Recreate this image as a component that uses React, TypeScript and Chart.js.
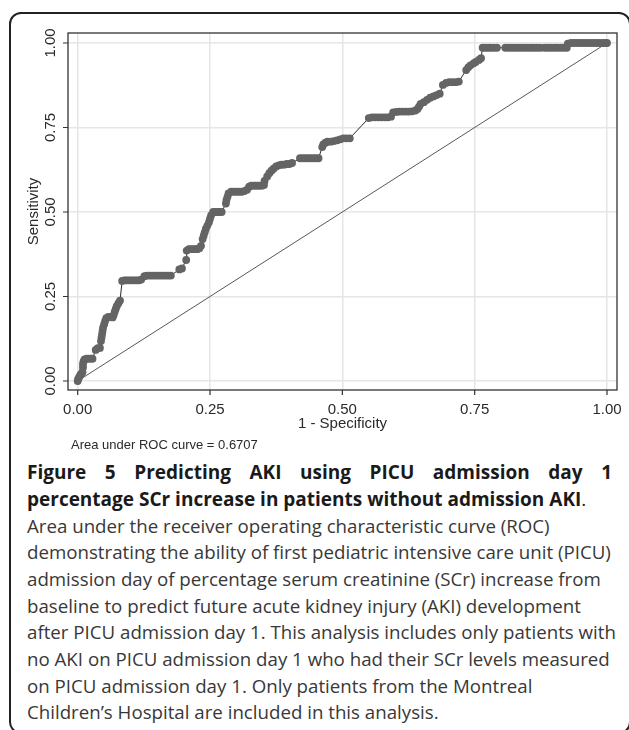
import React, { useEffect, useRef } from "react";
import { Chart, registerables } from "chart.js";

Chart.register(...registerables);

// ---- data ----
const tickValues = [0, 0.25, 0.5, 0.75, 1];
const tickLabels = ["0.00", "0.25", "0.50", "0.75", "1.00"];
const xTitle = "1 - Specificity";
const yTitle = "Sensitivity";
const aucNote = "Area under ROC curve = 0.6707";

const refX = [0, 1];
const refY = [0, 1];

const rocFpr = [
  0.0, 0.001, 0.003, 0.005, 0.007, 0.009, 0.01, 0.01, 0.011, 0.013, 0.017, 0.021, 0.025, 0.028,
  0.034, 0.038, 0.042, 0.044, 0.045, 0.046, 0.047, 0.048, 0.05, 0.052, 0.054, 0.058, 0.062, 0.066,
  0.068, 0.07, 0.072, 0.074, 0.077, 0.08, 0.084, 0.088, 0.092, 0.096, 0.1, 0.104, 0.108, 0.112,
  0.116, 0.12, 0.126, 0.131, 0.136, 0.141, 0.146, 0.151, 0.156, 0.161, 0.166, 0.171, 0.176,
  0.192, 0.197, 0.205, 0.206, 0.21, 0.214, 0.218, 0.222, 0.226, 0.23, 0.233,
  0.236, 0.238, 0.24, 0.242, 0.245, 0.248, 0.25, 0.252, 0.256, 0.26, 0.264, 0.268, 0.272,
  0.28, 0.281, 0.283, 0.285, 0.29, 0.295, 0.3, 0.305, 0.31, 0.315, 0.32,
  0.324, 0.328, 0.332, 0.336, 0.34, 0.344, 0.348, 0.352, 0.353, 0.358, 0.362, 0.366, 0.37,
  0.375, 0.38, 0.385, 0.39, 0.395, 0.4, 0.405,
  0.42, 0.425, 0.43, 0.435, 0.44, 0.445, 0.45, 0.455,
  0.462, 0.464, 0.468, 0.472, 0.478, 0.484, 0.49, 0.496, 0.502, 0.508, 0.514,
  0.55, 0.556, 0.562, 0.568, 0.574, 0.58, 0.586, 0.592,
  0.596, 0.602, 0.608, 0.614, 0.62, 0.626, 0.632, 0.638, 0.642, 0.645, 0.648,
  0.654, 0.66, 0.666, 0.672, 0.678, 0.684, 0.69, 0.696, 0.702, 0.708, 0.714, 0.72,
  0.734, 0.738, 0.742, 0.748, 0.752, 0.758, 0.762,
  0.765, 0.77, 0.775, 0.78, 0.786, 0.792,
  0.808, 0.814, 0.82, 0.826, 0.832, 0.838, 0.844, 0.85, 0.856, 0.862, 0.868, 0.874,
  0.882, 0.888, 0.894, 0.9, 0.906, 0.912, 0.918, 0.924,
  0.926, 0.932, 0.938, 0.944, 0.95, 0.956, 0.962, 0.968, 0.974, 0.98, 0.986, 0.992, 0.997, 1.0,
];

const rocTpr = [
  0.0, 0.006, 0.012, 0.018, 0.022, 0.026, 0.04, 0.05, 0.058, 0.064, 0.066, 0.066, 0.066, 0.066,
  0.092, 0.097, 0.098, 0.118, 0.128, 0.138, 0.148, 0.158, 0.168, 0.178, 0.186, 0.19, 0.19, 0.188,
  0.195, 0.205, 0.214, 0.222, 0.23, 0.238, 0.296, 0.298, 0.298, 0.298, 0.298, 0.298, 0.298, 0.298,
  0.298, 0.3, 0.31, 0.312, 0.312, 0.312, 0.312, 0.312, 0.312, 0.312, 0.312, 0.312, 0.312,
  0.33, 0.333, 0.358, 0.386, 0.39, 0.39, 0.39, 0.39, 0.39, 0.393, 0.4,
  0.42, 0.43, 0.44, 0.45, 0.46, 0.47, 0.48, 0.49, 0.5, 0.5, 0.5, 0.5, 0.5,
  0.525, 0.535, 0.545, 0.555, 0.56, 0.56, 0.56, 0.56, 0.56, 0.562, 0.566,
  0.575, 0.578, 0.578, 0.578, 0.578, 0.578, 0.578, 0.58, 0.592, 0.605, 0.615, 0.622, 0.628,
  0.635, 0.638, 0.64, 0.64, 0.642, 0.642, 0.645,
  0.659, 0.659, 0.659, 0.659, 0.659, 0.659, 0.659, 0.659,
  0.692, 0.7, 0.705, 0.708, 0.708, 0.71, 0.712, 0.715, 0.718, 0.718, 0.718,
  0.778, 0.78, 0.78, 0.78, 0.78, 0.78, 0.78, 0.782,
  0.795, 0.796, 0.797, 0.797, 0.797, 0.797, 0.798, 0.8, 0.805, 0.812, 0.82,
  0.825, 0.832, 0.838, 0.842, 0.846, 0.85, 0.876, 0.882, 0.884, 0.884, 0.884, 0.886,
  0.92, 0.928, 0.934, 0.94, 0.944, 0.95, 0.955,
  0.986, 0.986, 0.986, 0.986, 0.986, 0.986,
  0.986, 0.986, 0.986, 0.986, 0.986, 0.986, 0.986, 0.986, 0.986, 0.986, 0.986, 0.986,
  0.986, 0.986, 0.986, 0.986, 0.986, 0.986, 0.986, 0.986,
  0.998, 1.0, 1.0, 1.0, 1.0, 1.0, 1.0, 1.0, 1.0, 1.0, 1.0, 1.0, 1.0, 1.0,
];

const captionTitle1 = "Figure 5 Predicting AKI using PICU admission day 1";
const captionTitle2 = "percentage SCr increase in patients without admission AKI";
const captionBody = [
  "Area under the receiver operating characteristic curve (ROC)",
  "demonstrating the ability of first pediatric intensive care unit (PICU)",
  "admission day of percentage serum creatinine (SCr) increase from",
  "baseline to predict future acute kidney injury (AKI) development",
  "after PICU admission day 1. This analysis includes only patients with",
  "no AKI on PICU admission day 1 who had their SCr levels measured",
  "on PICU admission day 1. Only patients from the Montreal",
  "Children\u2019s Hospital are included in this analysis.",
];

const AXIS_FONT = '15px "Liberation Sans", Arial, sans-serif';
const NOTE_FONT = '13px "Liberation Sans", Arial, sans-serif';
const TEXT_COLOR = "#2a2a2a";

const textPlugin = {
  id: "rocText",
  afterDraw(chart: any) {
    const ctx = chart.ctx as CanvasRenderingContext2D;
    const xs = chart.scales.x;
    const ys = chart.scales.y;
    const a = chart.chartArea;
    ctx.save();
    // plot frame
    ctx.strokeStyle = "#333";
    ctx.lineWidth = 1.3;
    ctx.strokeRect(a.left, a.top, a.right - a.left, a.bottom - a.top);
    // tick marks
    ctx.lineWidth = 1.2;
    ctx.beginPath();
    tickValues.forEach((v) => {
      const px = xs.getPixelForValue(v);
      ctx.moveTo(px, a.bottom);
      ctx.lineTo(px, a.bottom + 5);
      const py = ys.getPixelForValue(v);
      ctx.moveTo(a.left, py);
      ctx.lineTo(a.left - 5, py);
    });
    ctx.stroke();

    ctx.fillStyle = TEXT_COLOR;
    ctx.font = AXIS_FONT;
    // x tick labels
    ctx.textAlign = "center";
    ctx.textBaseline = "alphabetic";
    tickValues.forEach((v, i) => {
      ctx.fillText(tickLabels[i], xs.getPixelForValue(v), a.bottom + 24);
    });
    // x title
    ctx.fillText(xTitle, (a.left + a.right) / 2, a.bottom + 38);
    // y tick labels (rotated)
    tickValues.forEach((v, i) => {
      ctx.save();
      ctx.translate(a.left - 13, ys.getPixelForValue(v));
      ctx.rotate(-Math.PI / 2);
      ctx.fillText(tickLabels[i], 0, 0);
      ctx.restore();
    });
    // y title
    ctx.save();
    ctx.translate(a.left - 30, (a.top + a.bottom) / 2);
    ctx.rotate(-Math.PI / 2);
    ctx.fillText(yTitle, 0, 0);
    ctx.restore();
    // AUC note
    ctx.font = NOTE_FONT;
    ctx.textAlign = "left";
    ctx.fillText(aucNote, 71, a.bottom + 59);
    ctx.restore();
  },
};

export default function App() {
  const canvasRef = useRef<HTMLCanvasElement | null>(null);

  useEffect(() => {
    const canvas = canvasRef.current;
    if (!canvas) return;
    const rocPoints = rocFpr.map((x, i) => ({ x, y: rocTpr[i] }));
    const refPoints = refX.map((x, i) => ({ x, y: refY[i] }));
    const chart = new Chart(canvas, {
      type: "scatter",
      data: {
        datasets: [
          {
            data: refPoints,
            showLine: true,
            borderColor: "#444",
            borderWidth: 0.9,
            pointRadius: 0,
            order: 2,
          },
          {
            data: rocPoints,
            showLine: true,
            borderColor: "#111",
            borderWidth: 0.9,
            pointRadius: 3.9,
            pointBackgroundColor: "#646464",
            pointBorderWidth: 0,
            pointBorderColor: "#646464",
            order: 1,
          },
        ],
      },
      options: {
        responsive: false,
        animation: false,
        devicePixelRatio: 1,
        layout: { padding: { top: 33, right: 12, left: 0, bottom: 0 } },
        plugins: {
          legend: { display: false },
          tooltip: { enabled: false },
        },
        scales: {
          x: {
            type: "linear",
            min: -0.0183,
            max: 1.0189,
            afterBuildTicks: (s: any) => {
              s.ticks = tickValues.map((v) => ({ value: v }));
            },
            afterFit: (s: any) => {
              s.height = 60;
            },
            ticks: { display: false },
            grid: { color: "#e6e6e6", lineWidth: 1.5, drawTicks: false },
            border: { display: false },
          },
          y: {
            type: "linear",
            min: -0.0266,
            max: 1.0296,
            afterBuildTicks: (s: any) => {
              s.ticks = tickValues.map((v) => ({ value: v }));
            },
            afterFit: (s: any) => {
              s.width = 68;
            },
            ticks: { display: false },
            grid: { color: "#e6e6e6", lineWidth: 1.5, drawTicks: false },
            border: { display: false },
          },
        },
      },
      plugins: [textPlugin],
    });
    return () => chart.destroy();
  }, []);

  const lineH = 26.7;
  return (
    <div
      style={{
        position: "fixed",
        left: 0,
        top: 0,
        width: 629,
        height: 730,
        overflow: "hidden",
        background: "#fff",
      }}
    >
      <div
        style={{
          position: "absolute",
          left: 9,
          top: 12,
          width: 622,
          height: 722,
          boxSizing: "border-box",
          border: "2px solid #222",
          borderRadius: 12,
        }}
      />
      <canvas
        ref={canvasRef}
        width={629}
        height={450}
        style={{ position: "absolute", left: 0, top: 0, width: 629, height: 450, display: "block" }}
      />
      <div
        style={{
          position: "absolute",
          left: 27,
          top: 459.3,
          width: 585,
          fontFamily: '"Open Sans", sans-serif',
          lineHeight: `${lineH}px`,
          whiteSpace: "nowrap",
        }}
      >
        <div
          style={{
            fontWeight: 700,
            fontSize: 19,
            color: "#1a1a1a",
            textAlign: "justify",
            textAlignLast: "justify" as any,
            height: lineH,
            whiteSpace: "normal",
          }}
        >
          {captionTitle1}
        </div>
        <div style={{ fontSize: 19, color: "#1a1a1a", height: lineH }}>
          <span style={{ fontWeight: 700 }}>{captionTitle2}</span>
          <span>.</span>
        </div>
        {captionBody.map((t, i) => (
          <div key={i} style={{ fontSize: 18.7, color: "#383838", height: lineH }}>
            {t}
          </div>
        ))}
      </div>
    </div>
  );
}
